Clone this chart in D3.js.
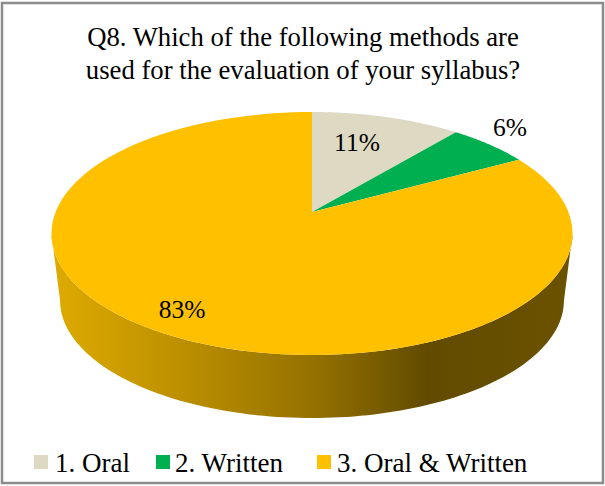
<!DOCTYPE html>
<html><head><meta charset="utf-8">
<script src="https://cdn.jsdelivr.net/npm/d3@7"></script>
<style>html,body{margin:0;padding:0;background:#fff}svg{display:block}text{font-family:"Liberation Serif",serif;fill:#000}</style>
</head><body><svg id="c" width="605" height="486"></svg>
<script>
const categories = ["1. Oral", "2. Written", "3. Oral & Written"];
const seriesValues = [11, 6, 83];
const colors = ["#DDD9C3", "#00B050", "#FFC000"];
const titleLines = ["Q8. Which of the following methods are", "used for the evaluation of your syllabus?"];

const W = 605, H = 486;
const svg = d3.select("#c");
svg.append("rect").attr("x",2).attr("y",3).attr("width",W-4).attr("height",H-6)
  .attr("fill","#fff").attr("stroke","#8c8c8c").attr("stroke-width",2.5);

const apex = [312, 212], persp = 0.177, bx = 256.4, ay = 117.7;
const project = t => {
  const u = Math.sin(t), v = Math.cos(t), d = 1 + persp * v;
  return [apex[0] + bx * u / d, apex[1] - ay * v / d];
};
const cyTop = 233.5, shrink = 0.967, drop = 67;
const projectBase = t => {
  const p = project(t);
  return [apex[0] + (p[0] - apex[0]) * shrink, cyTop + (p[1] - cyTop) * shrink + drop];
};
const arcPts = (f, a, b) => d3.range(0, 121).map(i => f(a + (b - a) * i / 120));
const line = d3.line();

const defs = svg.append("defs");
const grad = defs.append("linearGradient").attr("id","wall").attr("gradientUnits","userSpaceOnUse")
  .attr("x1",52).attr("x2",573).attr("y1",0).attr("y2",0);
[[0,"#dfab00"],[0.25,"#bb8f00"],[0.5,"#957200"],[0.72,"#624b00"],[1,"#6b5200"]].forEach(s =>
  grad.append("stop").attr("offset",s[0]).attr("stop-color",s[1]));

const tR = Math.PI * 0.5 + 0.18, tL = Math.PI * 1.5 - 0.18;
const wall = arcPts(project, tR, tL).concat(arcPts(projectBase, tL, tR));
svg.append("path").attr("d", line(wall) + "Z").attr("fill","url(#wall)");

const pie = d3.pie().sort(null).value(d => d)(seriesValues);
svg.selectAll("path.slice").data(pie).join("path").attr("class","slice")
  .attr("fill",(d,i) => colors[i])
  .attr("d", d => line([apex].concat(arcPts(project, d.startAngle, d.endAngle))) + "Z");

const titleG = svg.append("g").attr("text-anchor","middle").style("font-size","26.7px");
titleLines.forEach((t,i) => titleG.append("text").attr("x",303).attr("y",[46,79][i]).text(t));

const labelPos = [[357,151],[510,136],[182,318]];
svg.append("g").attr("text-anchor","middle").style("font-size","25.5px")
  .selectAll("text").data(seriesValues).join("text")
  .attr("x",(d,i)=>labelPos[i][0]).attr("y",(d,i)=>labelPos[i][1]).text(d => d + "%");

const legendX = [[34,55],[156,175],[317,337]];
const lg = svg.append("g").style("font-size","27px");
categories.forEach((c,i) => {
  lg.append("rect").attr("x",legendX[i][0]).attr("y",455).attr("width",14).attr("height",14).attr("fill",colors[i]);
  lg.append("text").attr("x",legendX[i][1]).attr("y",472).text(c);
});
</script></body></html>
